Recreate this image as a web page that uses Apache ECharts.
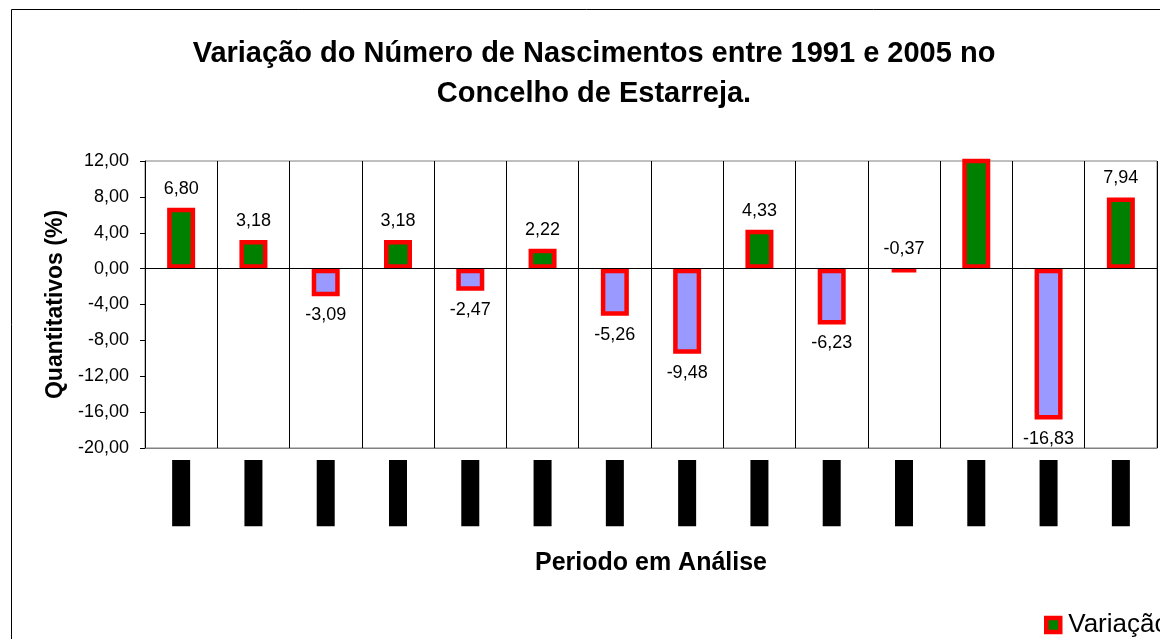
<!DOCTYPE html>
<html>
<head>
<meta charset="utf-8">
<script src="https://cdn.jsdelivr.net/npm/echarts@6/dist/echarts.min.js"></script>
<style>html,body{margin:0;padding:0;background:#fff}#c{width:1160px;height:639px}</style>
</head>
<body>
<div id="c"></div>
<script>
const categories = ['1991/1992','1992/1993','1993/1994','1994/1995','1995/1996','1996/1997','1997/1998','1998/1999','1999/2000','2000/2001','2001/2002','2002/2003','2003/2004','2004/2005'];
const values = [6.80, 3.18, -3.09, 3.18, -2.47, 2.22, -5.26, -9.48, 4.33, -6.23, -0.37, 13.00, -16.83, 7.94];
const hiddenLabel = [false,false,false,false,false,false,false,false,false,false,false,true,false,false];
const yTicks = {min: -20, max: 12, interval: 4};

const FONT = "'Liberation Sans', Arial, sans-serif";
const chart = echarts.init(document.getElementById('c'), null, {renderer: 'canvas'});

const data = values.map((v, i) => {
  const item = {value: v};
  const neg = v < 0;
  item.itemStyle = {color: neg ? '#9999FF' : '#008000'};
  let pos = neg ? 'bottom' : 'top';
  if (v < 0 && v > -1) pos = 'top';
  item.label = {show: !hiddenLabel[i], position: pos};
  return item;
});

chart.setOption({
  animation: false,
  backgroundColor: '#fff',
  title: {
    text: 'Variação do Número de Nascimentos entre 1991 e 2005 no\nConcelho de Estarreja.',
    left: 594,
    textAlign: 'center',
    top: 34,
    padding: 0,
    textStyle: {fontFamily: FONT, fontSize: 29, fontWeight: 'bold', color: '#000', lineHeight: 40}
  },
  legend: {
    left: 1044, top: 612, padding: 0,
    itemWidth: 14, itemHeight: 14, itemGap: 6,
    icon: 'rect',
    itemStyle: {borderWidth: 4.5, borderColor: '#FF0000', color: '#008000'},
    textStyle: {fontFamily: FONT, fontSize: 26, color: '#000', padding: [0, 0, 0, 3]},
    data: ['Variação']
  },
  graphic: [{
    type: 'rect', silent: true, z: -1,
    shape: {x: 11.5, y: 9.5, width: 1200, height: 700},
    style: {fill: 'none', stroke: '#000', lineWidth: 1}
  }],
  grid: {left: 145, top: 161, right: 3, bottom: 191, show: true, borderColor: '#808080', borderWidth: 1},
  xAxis: {
    type: 'category',
    data: categories,
    name: 'Periodo em Análise',
    nameLocation: 'middle',
    nameGap: 103,
    nameTextStyle: {fontFamily: FONT, fontSize: 25, fontWeight: 'bold', color: '#000'},
    axisLine: {onZero: false, lineStyle: {color: '#808080'}},
    axisTick: {show: false},
    splitLine: {show: true, lineStyle: {color: '#000', width: 1}},
    axisLabel: {
      rotate: 90, margin: 12, interval: 0,
      fontFamily: FONT, fontSize: 14, color: '#000',
      backgroundColor: '#000', padding: [2, 0, 2, 0], lineHeight: 14
    }
  },
  yAxis: {
    type: 'value',
    min: yTicks.min, max: yTicks.max, interval: yTicks.interval,
    name: 'Quantitativos (%)',
    nameLocation: 'middle',
    nameGap: 78,
    nameTextStyle: {fontFamily: FONT, fontSize: 23, fontWeight: 'bold', color: '#000'},
    axisLine: {show: true, lineStyle: {color: '#000'}},
    axisTick: {show: true, length: 5, lineStyle: {color: '#000'}},
    splitLine: {show: false},
    axisLabel: {
      margin: 16, fontFamily: FONT, fontSize: 18, color: '#000',
      formatter: v => v.toFixed(2).replace('.', ',')
    }
  },
  series: [{
    name: 'Variação',
    type: 'bar',
    barWidth: 28,
    clip: true,
    data: data,
    itemStyle: {color: '#008000', borderColor: '#FF0000', borderWidth: 4.5},
    label: {
      distance: 10, fontFamily: FONT, fontSize: 18, color: '#000',
      formatter: p => p.value.toFixed(2).replace('.', ',')
    },
    markLine: {
      silent: true, symbol: 'none', label: {show: false},
      lineStyle: {color: '#000', type: 'solid', width: 1},
      data: [{yAxis: 0}]
    }
  }]
});
</script>
</body>
</html>
